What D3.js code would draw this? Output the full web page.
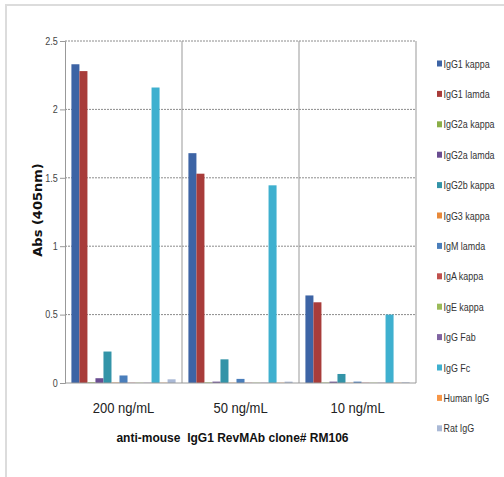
<!DOCTYPE html>
<html>
<head>
<meta charset="utf-8">
<script src="https://cdn.jsdelivr.net/npm/d3@7"></script>
<style>
	body { margin: 0; background: #fff; }
	svg text { font-family: "Liberation Sans Narrow", "Liberation Sans", sans-serif; }
	.tick text { fill: #444; font-size: 10px; }
</style>
</head>
<body>
<script>
var width = 504, height = 477;
var margin = {left: 65, right: 88, top: 41, bottom: 94};

// data
var categories = ["200 ng/mL", "50 ng/mL", "10 ng/mL"];
var seriesNames = ["IgG1 kappa", "IgG1 lamda", "IgG2a kappa", "IgG2a lamda", "IgG2b kappa", "IgG3 kappa",
	"IgM lamda", "IgA kappa", "IgE kappa", "IgG Fab", "IgG Fc", "Human IgG", "Rat IgG"];
var colors = ["#3d64a5", "#a83c3a", "#8aae48", "#6a4d91", "#3394a8", "#e8893a",
	"#4a7ebb", "#c0504d", "#9bbb59", "#8064a2", "#3fb0cf", "#f79646", "#aab9d6"];
// values per series, one entry per category
var vals200 = [2.33, 2.28, 0.005, 0.035, 0.23, 0.003, 0.055, 0.002, 0.002, 0.002, 2.16, 0.002, 0.027];
var vals50  = [1.68, 1.53, 0.004, 0.01, 0.173, 0.002, 0.03, 0.002, 0.002, 0.002, 1.445, 0.002, 0.01];
var vals10  = [0.64, 0.59, 0.003, 0.01, 0.066, 0.002, 0.01, 0.002, 0.002, 0.002, 0.5, 0.002, 0.005];
var yTicks = [0, 0.5, 1, 1.5, 2, 2.5];
var yTickLabels = ["0", "0.5", "1", "1.5", "2", "2.5"];
var allVals = [vals200, vals50, vals10];

var pw = width - margin.left - margin.right;
var ph = height - margin.top - margin.bottom;

var svg = d3.select("body").append("svg")
	.attr("width", width).attr("height", height);

// frame
svg.append("line").attr("x1", 6).attr("x2", 6).attr("y1", 4).attr("y2", height)
	.attr("stroke", "#dcdcdc").attr("stroke-width", 2);
svg.append("line").attr("x1", 5).attr("x2", width).attr("y1", 5).attr("y2", 5)
	.attr("stroke", "#dcdcdc").attr("stroke-width", 2);

var g = svg.append("g").attr("transform", "translate(" + margin.left + "," + margin.top + ")");

var x0 = d3.scaleBand().domain(categories).range([0, pw]).paddingInner(0).paddingOuter(0);
var x1 = d3.scaleBand().domain(seriesNames).range([0, x0.bandwidth()]).paddingOuter(0.8).paddingInner(0);
var y = d3.scaleLinear().domain([0, 2.5]).range([ph, 0]);

// grid
g.selectAll(".grid").data(yTicks.slice(1)).enter().append("line")
	.attr("x1", 0).attr("x2", pw)
	.attr("y1", function(d){ return y(d); }).attr("y2", function(d){ return y(d); })
	.attr("stroke", "#8c8c8c").attr("stroke-dasharray", "2,1").attr("stroke-width", 1);

// vertical dividers
g.selectAll(".vline").data(categories).enter().append("line")
	.attr("x1", function(d){ return x0(d) + x0.bandwidth(); })
	.attr("x2", function(d){ return x0(d) + x0.bandwidth(); })
	.attr("y1", 0).attr("y2", ph)
	.attr("stroke", "#999").attr("stroke-width", 1);

// bars
var groups = g.selectAll(".grp").data(categories).enter().append("g")
	.attr("transform", function(d){ return "translate(" + x0(d) + ",0)"; });
groups.selectAll("rect")
	.data(function(d, ci){ return seriesNames.map(function(s, si){ return {s: s, v: allVals[ci][si], c: colors[si]}; }); })
	.enter().append("rect")
	.attr("x", function(d){ return x1(d.s); })
	.attr("width", x1.bandwidth())
	.attr("y", function(d){ return y(d.v); })
	.attr("height", function(d){ return ph - y(d.v); })
	.attr("fill", function(d){ return d.c; });

// axes
var yAxis = d3.axisLeft(y).tickValues(yTicks).tickFormat(function(d, i){ return yTickLabels[i]; }).tickSize(5).tickPadding(3);
var ya = g.append("g").call(yAxis);
ya.select(".domain").attr("stroke", "#999");
ya.selectAll(".tick line").attr("stroke", "#999");
ya.selectAll(".tick text").attr("transform", "scale(0.9,1)");

g.append("line").attr("x1", 0).attr("x2", pw).attr("y1", ph).attr("y2", ph)
	.attr("stroke", "#999");

// category labels
g.selectAll(".cat").data(categories).enter().append("text")
	.attr("transform", function(d){ return "translate(" + (x0(d) + x0.bandwidth() / 2) + "," + (ph + 30) + ") scale(0.93,1)"; })
	.attr("text-anchor", "middle")
	.attr("font-size", "14px").attr("fill", "#222")
	.text(function(d){ return d; });

// titles
svg.append("text")
	.attr("transform", "translate(" + (margin.left + pw / 2 - 8) + ",442) scale(0.89,1)")
	.attr("text-anchor", "middle").attr("font-weight", "bold")
	.attr("font-size", "13.5px").attr("fill", "#111")
	.attr("xml:space", "preserve")
	.text("anti-mouse  IgG1 RevMAb clone# RM106");

svg.append("text")
	.attr("transform", "translate(42,210) rotate(-90)")
	.attr("text-anchor", "middle").attr("font-weight", "bold")
	.attr("font-size", "13px").attr("fill", "#111")
	.style("font-family", "'DejaVu Sans', sans-serif")
	.text("Abs (405nm)");

// legend
var leg = svg.selectAll(".leg").data(seriesNames).enter().append("g")
	.attr("transform", function(d, i){ return "translate(437," + (63.5 + i * 30.4) + ")"; });
leg.append("rect").attr("x", 0).attr("y", -3).attr("width", 5).attr("height", 6)
	.attr("fill", function(d, i){ return colors[i]; });
leg.append("text").attr("transform", "translate(6.5,4) scale(0.85,1)")
	.attr("font-size", "10.5px").attr("fill", "#333")
	.text(function(d){ return d; });
</script>
</body>
</html>
